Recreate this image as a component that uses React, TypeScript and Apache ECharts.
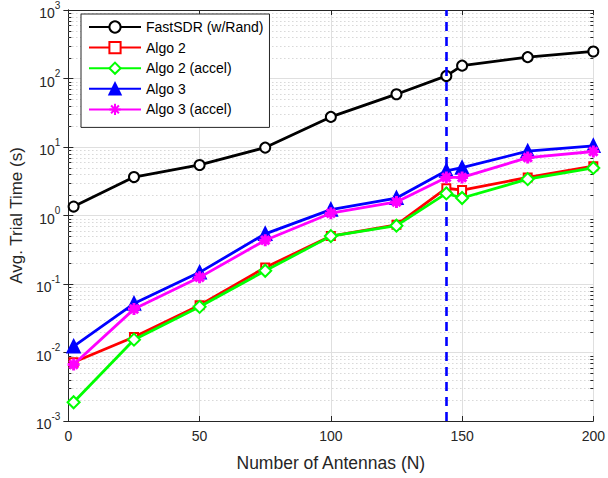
import React, { useEffect, useRef } from 'react';
import * as echarts from 'echarts';

const antennas = [2, 25, 50, 75, 100, 125, 144, 150, 175, 200];
const fastSDR = [1.35, 3.64, 5.47, 9.8, 27.5, 59, 109, 154, 205, 248];
const algo2 = [0.0072, 0.0168, 0.049, 0.174, 0.5, 0.73, 2.5, 2.35, 3.6, 5.25];
const algo2Accel = [0.00188, 0.0154, 0.0464, 0.156, 0.5, 0.71, 2.1, 1.8, 3.4, 4.95];
const algo3 = [0.0123, 0.0518, 0.148, 0.54, 1.22, 1.8, 4.5, 5.0, 8.7, 10.4];
const algo3Accel = [0.0067, 0.043, 0.125, 0.436, 1.08, 1.58, 3.6, 3.6, 7.0, 8.6];
const thresholdN = 144;

const seriesNames = ['FastSDR (w/Rand)', 'Algo 2', 'Algo 2 (accel)', 'Algo 3', 'Algo 3 (accel)'];
const seriesColors = ['#000000', '#ff0000', '#00ff00', '#0000ff', '#ff00ff'];
const xMin = 0, xMax = 200, xInterval = 50;
const yMin = 0.001, yMax = 1000;
const decades = [-3, -2, -1, 0, 1, 2];
const minorMultipliers = [2, 3, 4, 5, 6, 7, 8, 9];

const FONT = '"Liberation Sans", Arial, Helvetica, sans-serif';
const AX = '#262626';

const asterisk = 'path://M0,-10 L0,10 M-10,0 L10,0 M-7,-7 L7,7 M-7,7 L7,-7';

export default function App() {
  const ref = useRef<HTMLDivElement>(null);
  useEffect(() => {
    if (!ref.current) return;
    const chart = echarts.init(ref.current, null, { renderer: 'svg' });
    const minorVals: number[][] = [];
    decades.forEach((k) => minorMultipliers.forEach((m) => minorVals.push([0, m * Math.pow(10, k)])));
    const mk = (arr: number[]) => antennas.map((x, i) => [x, arr[i]]);
    const symbols = ['emptyCircle', 'emptyRect', 'emptyDiamond', 'triangle', asterisk];
    const sizes = [10, 8, 12, 12, 12];
    const borders = [2.6, 2.8, 2.6, 2.2, 3];
    const datas = [fastSDR, algo2, algo2Accel, algo3, algo3Accel];
    const lineSeries = seriesNames.map((name, i) => ({
      name,
      type: 'line',
      data: mk(datas[i]),
      symbol: symbols[i],
      symbolSize: sizes[i],
      showAllSymbol: true,
      color: seriesColors[i],
      lineStyle: { color: seriesColors[i], width: 2.8 },
      itemStyle: { color: seriesColors[i], borderColor: seriesColors[i], borderWidth: borders[i] },
      z: 3 + i,
      ...(i === 4
        ? {
            markLine: {
              silent: true,
              symbol: ['none', 'none'],
              label: { show: false },
              lineStyle: { color: '#0000ff', type: [9, 6], width: 2.6 },
              data: [{ xAxis: thresholdN }],
            },
          }
        : {}),
    }));
    const option: any = {
      animation: false,
      textStyle: { fontFamily: FONT },
      grid: { left: 67, top: 4, right: 12, bottom: 57, containLabel: false },
      legend: {
        data: seriesNames,
        orient: 'vertical',
        left: 81,
        top: 14,
        align: 'left',
        itemWidth: 52,
        itemHeight: 14,
        itemGap: 6.6,
        padding: [6, 6, 11, 7],
        backgroundColor: '#ffffff',
        borderColor: AX,
        borderWidth: 1,
        borderRadius: 0,
        textStyle: { fontSize: 14, color: '#000000', fontFamily: FONT },
      },
      xAxis: [
        {
          type: 'value',
          min: xMin,
          max: xMax,
          interval: xInterval,
          name: 'Number of Antennas (N)',
          nameLocation: 'middle',
          nameGap: 33,
          nameTextStyle: { fontSize: 17.5, color: AX, fontFamily: FONT },
          axisLine: { show: true, lineStyle: { color: AX, width: 1 } },
          axisTick: { show: true, inside: true, length: 5, lineStyle: { color: AX } },
          axisLabel: { fontSize: 14, color: AX, margin: 8, fontFamily: FONT },
          splitLine: { show: true, lineStyle: { color: '#dfdfdf', width: 1 } },
        },
        {
          type: 'value',
          position: 'top',
          min: xMin,
          max: xMax,
          interval: xInterval,
          axisLine: { show: true, lineStyle: { color: AX, width: 1 } },
          axisTick: { show: true, inside: true, length: 5, lineStyle: { color: AX } },
          axisLabel: { show: false },
          splitLine: { show: false },
        },
      ],
      yAxis: [
        {
          type: 'log',
          logBase: 10,
          min: yMin,
          max: yMax,
          name: 'Avg. Trial Time (s)',
          nameLocation: 'middle',
          nameGap: 41,
          nameTextStyle: { fontSize: 17, color: AX, fontFamily: FONT },
          axisLine: { show: true, lineStyle: { color: AX, width: 1 } },
          axisTick: { show: true, inside: true, length: 5, lineStyle: { color: AX } },
          axisLabel: {
            color: AX,
            margin: 8,
            formatter: (v: number) => `{b|10}{s|${Math.round(Math.log10(v))}}`,
            rich: {
              b: { fontSize: 14, color: AX, fontFamily: FONT, padding: [6, 0, 0, 0], verticalAlign: 'bottom' },
              s: { fontSize: 10, color: AX, fontFamily: FONT, lineHeight: 12, verticalAlign: 'top' },
            },
          },
          splitLine: { show: true, lineStyle: { color: '#dfdfdf', width: 1 } },
        },
        {
          type: 'log',
          logBase: 10,
          min: yMin,
          max: yMax,
          position: 'right',
          axisLine: { show: true, lineStyle: { color: AX, width: 1 } },
          axisTick: { show: true, inside: true, length: 5, lineStyle: { color: AX } },
          axisLabel: { show: false },
          splitLine: { show: false },
        },
      ],
      series: [
        {
          type: 'custom',
          name: 'minor',
          silent: true,
          z: 1,
          data: minorVals,
          renderItem: (params: any, api: any) => {
            const cs = params.coordSys;
            const y = Math.round(api.coord([0, api.value(1)])[1]) + 0.5;
            return {
              type: 'group',
              children: [
                { type: 'line', shape: { x1: cs.x, y1: y, x2: cs.x + cs.width, y2: y }, style: { stroke: '#c4c4c4', lineWidth: 1, lineDash: [1, 3] } },
                { type: 'line', shape: { x1: cs.x, y1: y, x2: cs.x + 3, y2: y }, style: { stroke: AX, lineWidth: 1 } },
                { type: 'line', shape: { x1: cs.x + cs.width - 3, y1: y, x2: cs.x + cs.width, y2: y }, style: { stroke: AX, lineWidth: 1 } },
              ],
            };
          },
        },
        ...lineSeries,
      ],
    };
    chart.setOption(option);
    return () => chart.dispose();
  }, []);
  return <div ref={ref} style={{ position: 'fixed', left: 0, top: 0, width: 608, height: 478, background: '#ffffff' }} />;
}
